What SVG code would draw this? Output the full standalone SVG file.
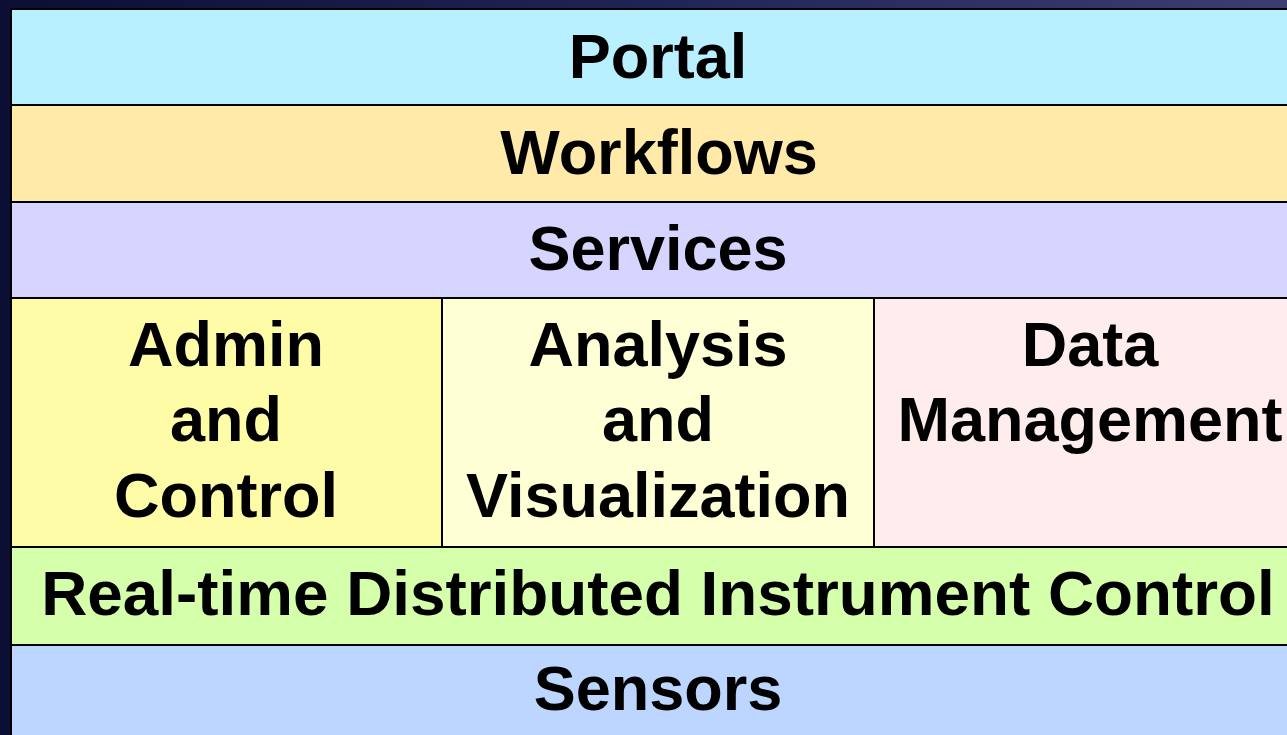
<svg xmlns="http://www.w3.org/2000/svg" width="1287" height="735" viewBox="0 0 1287 735">
<defs>
<linearGradient id="bg" x1="0" y1="0" x2="1" y2="0">
<stop offset="0" stop-color="#0b0f33"/>
<stop offset="0.5" stop-color="#1f2456"/>
<stop offset="1" stop-color="#3b3e70"/>
</linearGradient>
<style>
.b{stroke:#000;stroke-width:2}
.t{font-family:"Liberation Sans",Arial,Helvetica,sans-serif;font-weight:bold;font-size:63px;fill:#000;text-anchor:middle}
</style>
</defs>
<rect x="0" y="0" width="1287" height="735" fill="url(#bg)"/>
<g id="portal"><rect class="b" x="11" y="9" width="1296" height="96" fill="#b8f0ff"/><text class="t" x="658" y="78">Portal</text></g>
<g id="workflows"><rect class="b" x="11" y="105" width="1296" height="97" fill="#ffeaaa"/><text class="t" x="659" y="174">Workflows</text></g>
<g id="services"><rect class="b" x="11" y="202" width="1296" height="96" fill="#d5d5ff"/><text class="t" x="658" y="270">Services</text></g>
<g id="admin"><rect class="b" x="11" y="298" width="431" height="249" fill="#fffca8"/><text class="t" x="226" y="366">Admin</text><text class="t" x="226" y="441">and</text><text class="t" x="226" y="517">Control</text></g>
<g id="analysis"><rect class="b" x="442" y="298" width="432" height="249" fill="#ffffd5"/><text class="t" x="658" y="366">Analysis</text><text class="t" x="658" y="441">and</text><text class="t" x="658" y="517">Visualization</text></g>
<g id="data"><rect class="b" x="874" y="298" width="433" height="249" fill="#ffeded"/><text class="t" x="1090" y="366">Data</text><text class="t" x="1090" y="441">Management</text></g>
<g id="realtime"><rect class="b" x="11" y="547" width="1296" height="98" fill="#d5ffaa"/><text class="t" x="658" y="615" style="font-size:63.8px">Real-time Distributed Instrument Control</text></g>
<g id="sensors"><rect class="b" x="11" y="645" width="1296" height="100" fill="#bdd6ff"/><text class="t" x="658" y="710">Sensors</text></g>
<g id="connectors"/>
</svg>
